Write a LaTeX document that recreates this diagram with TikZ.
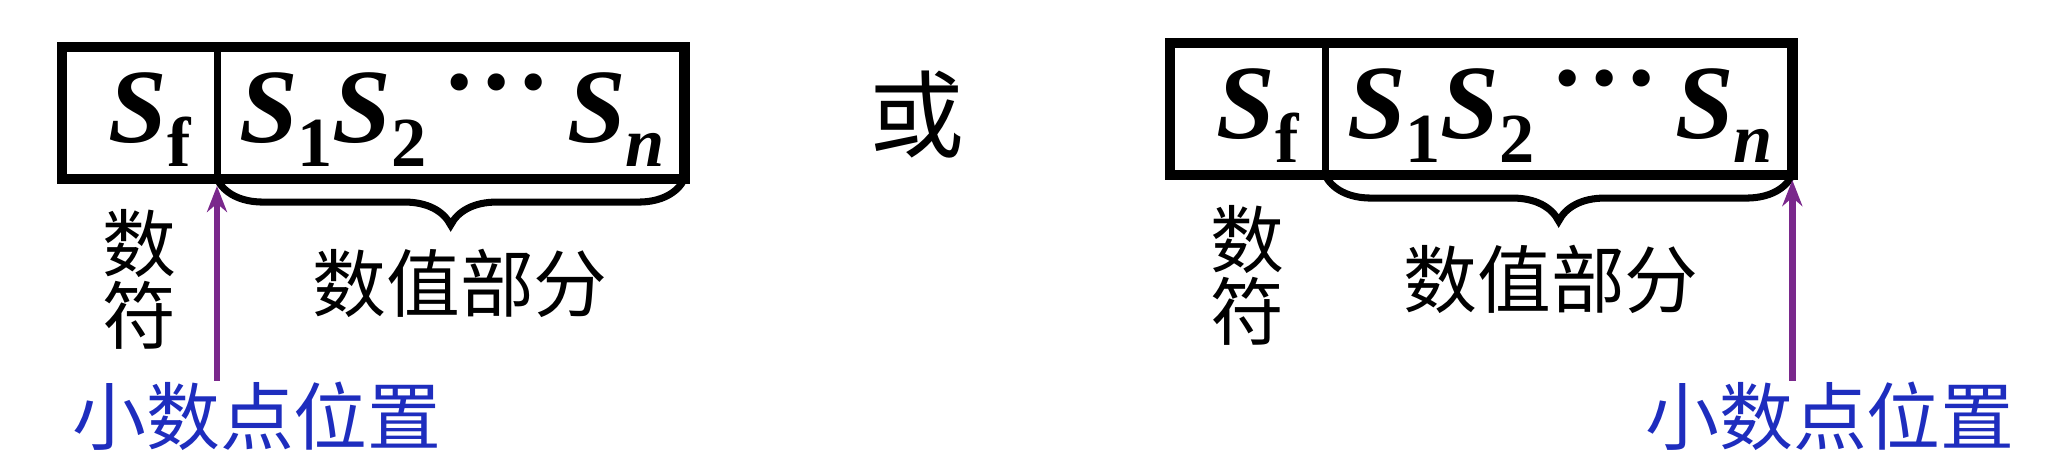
\documentclass[tikz,border=0pt]{standalone}
\usepackage{fontspec}
\setmainfont{Liberation Serif}
\newfontfamily\cjk{Noto Sans CJK SC}
\usetikzlibrary{decorations.pathreplacing,arrows.meta}

\definecolor{arrowpurple}{RGB}{122,40,140}
\definecolor{labelblue}{RGB}{30,45,190}

% one sign/value bit S with its index
\newcommand{\Sbit}[1]{\textbf{\textit{S}}\raisebox{-7pt}{\fontsize{20}{24}\selectfont\textbf{#1}}}
\newcommand{\bitdots}{\raisebox{15pt}{\textbf{.}\kern0.1em\textbf{.}\kern0.1em\textbf{.}}}

\tikzset{
  cell/.style={draw, line width=2pt, minimum height=1.32cm, inner sep=0pt, outer sep=0pt},
  outerbox/.style={line width=3pt},
  sym/.style={font=\fontsize{30}{36}\selectfont, inner sep=0pt, anchor=base},
  cjktext/.style={font=\cjk\fontsize{21}{20.5}\selectfont, inner sep=0pt, align=center},
  ptarrow/.style={-{Stealth[length=0.26cm,width=0.2cm]}, arrowpurple, line width=1.8pt},
  valbrace/.style={decorate, decoration={brace, amplitude=0.46cm}, line width=2pt},
}

\begin{document}
\begin{tikzpicture}[x=0.01cm, y=-0.01cm]
    \useasboundingbox (0,0) rectangle (2048,472);

    % Left: point right after the sign bit
    \node[cell, minimum width=1.55cm] (signL) at (139.5,113) {};
    \node[cell, minimum width=4.67cm, anchor=west] (valueL) at (signL.east) {};
    \draw[outerbox] (signL.north west) rectangle (valueL.south east);
    \node[sym] (sfL) at (150,142) {\Sbit{f}};
    \node[sym] (bitsL) at (452,142) {\Sbit{1}\Sbit{2}\hspace{0.2cm}\bitdots\hspace{0.2cm}\Sbit{\textit{n}}};
    \draw[valbrace] (valueL.south east) -- (valueL.south west);
    \node[cjktext] (signtextL) at (139,279) {数\\符};
    \node[cjktext] (valtextL) at (460,283) {数值部分};
    \node[cjktext, text=labelblue] (ptL) at (257,416) {小数点位置};
    \coordinate (dotL) at (217,186);
    \draw[ptarrow] (dotL |- ptL.north) -- (dotL);

    % or
    \node[cjktext, font=\cjk\fontsize{27}{27}\selectfont] (orword) at (917,115) {或};

    % Right: point after the last bit
    \node[cell, minimum width=1.55cm] (signR) at (1247.5,109) {};
    \node[cell, minimum width=4.67cm, anchor=west] (valueR) at (signR.east) {};
    \draw[outerbox] (signR.north west) rectangle (valueR.south east);
    \node[sym] (sfR) at (1258,138) {\Sbit{f}};
    \node[sym] (bitsR) at (1560,138) {\Sbit{1}\Sbit{2}\hspace{0.2cm}\bitdots\hspace{0.2cm}\Sbit{\textit{n}}};
    \draw[valbrace] (valueR.south east) -- (valueR.south west);
    \node[cjktext] (signtextR) at (1247,275) {数\\符};
    \node[cjktext] (valtextR) at (1551,279) {数值部分};
    \node[cjktext, text=labelblue] (ptR) at (1830,416) {小数点位置};
    \coordinate (dotR) at (valueR.south east);
    \draw[ptarrow] (dotR |- ptR.north) -- ([yshift=-0.05cm]dotR);
\end{tikzpicture}
\end{document}
